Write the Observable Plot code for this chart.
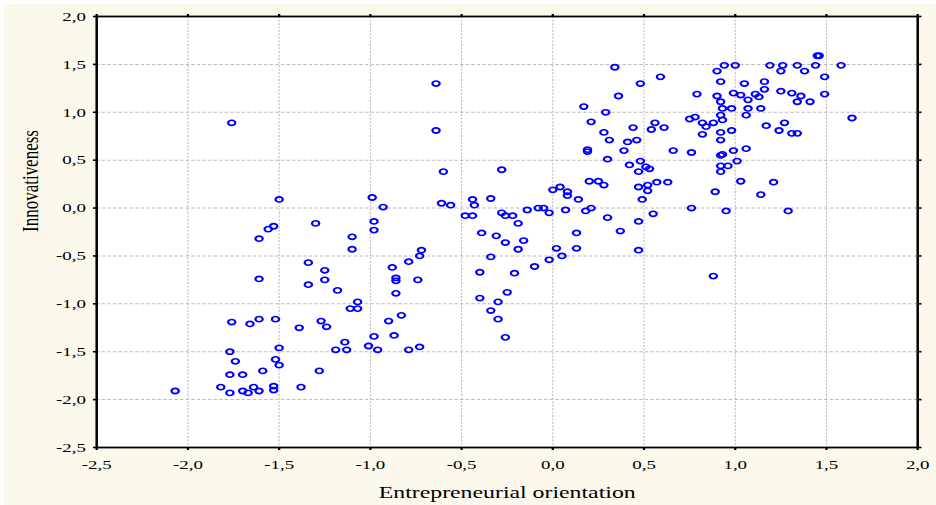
<!DOCTYPE html>
<html>
<head>
<meta charset="utf-8">
<script src="https://cdn.jsdelivr.net/npm/d3@7"></script>
<script src="https://cdn.jsdelivr.net/npm/@observablehq/plot@0.6"></script>
<style>
  html, body { margin: 0; padding: 0; background: #ffffff; }
  #wrap { position: relative; width: 936px; height: 505px; overflow: hidden; }
  #bg { position: absolute; left: 4px; top: 4px; width: 932px; height: 501px; background: #fdf8ec; }
  #chart { position: absolute; left: 0; top: 0; }
</style>
</head>
<body>
<div id="wrap"><div id="bg"></div><div id="chart"></div></div>
<script>
// Entrepreneurial orientation (x) and Innovativeness (y)
const orientation = [
  -1.76, -1.50, -0.99, -0.93, -1.30, -1.53, -1.56, -1.61, -1.10, -0.98,
  -0.98, -1.10, -1.61, -1.34, -1.34, -1.25, -1.25, -1.18, -1.07, -1.11,
  -1.07, -1.76, -1.66, -1.61, -1.52, -1.39, -1.27, -1.24, -1.14, -1.19,
  -1.13, -1.01, -0.98, -0.96, -1.77, -1.74, -1.50, -1.52, -1.50, -1.59,
  -1.28, -1.77, -1.70, -2.07, -1.82, -1.77, -1.70, -1.67, -1.64, -1.61,
  -1.53, -1.53, -1.38,
  -0.64, -0.64, -0.60, -0.28, -0.61, -0.56, -0.44, -0.43, -0.34, -0.48,
  -0.44, -0.28, -0.26, -0.22, -0.19, -0.14, -0.08, -0.05, -0.02, 0.07,
  0.18, 0.21, 0.30, 0.14, 0.49, 0.47, 0.55, 0.37, 0.13, 0.47,
  -0.39, -0.31, -0.26, -0.16, -0.19, 0.02, 0.13, 0.05, -0.02, -0.10,
  -0.34, -0.40, -0.21, -0.25, -0.40, -0.30, -0.34, -0.30, -0.26, -0.72,
  -0.73, -0.79, -0.88, -0.86, -0.86, -0.74, -0.86, -0.83, -0.90, -0.87,
  -0.79, -0.73,
  0.34, 0.48, 0.59, 0.36, 0.17, 0.29, 0.21, 0.44, 0.56, 0.54,
  0.61, 0.28, 0.31, 0.41, 0.46, 0.19, 0.19, 0.39, 0.66, 0.30,
  0.42, 0.48, 0.47, 0.51, 0.53, 0.20, 0.25, 0.28, 0.00, 0.04,
  0.08, 0.08, 0.47, 0.52, 0.52, 0.57, 0.63,
  0.79, 0.75, 0.78, 0.82, 0.84, 0.88, 0.82, 0.76, 0.89, 0.76,
  0.95, 1.29, 1.14, 1.21, 1.03, 0.92, 0.92, 0.96, 1.01, 0.93,
  0.92, 0.99, 1.06, 0.92, 0.92, 0.98, 1.17, 1.27, 1.24, 1.31,
  1.34, 0.92, 0.93, 0.93, 0.98, 1.07, 1.14, 1.06, 0.90, 0.92,
  0.99, 1.03, 1.07, 1.11, 1.13, 1.16, 1.16, 1.05, 1.25, 1.31,
  1.36, 1.34, 1.41, 1.49, 1.49, 0.92, 0.90, 0.94, 1.00, 1.19,
  1.26, 1.25, 1.34, 1.38, 1.44, 1.45, 1.46, 1.58, 1.64, 0.88
];
const innovativeness = [
  0.89, 0.09, 0.11, 0.01, -0.16, -0.19, -0.22, -0.32, -0.30, -0.14,
  -0.23, -0.43, -0.74, -0.57, -0.80, -0.65, -0.75, -0.86, -0.98, -1.05,
  -1.05, -1.19, -1.21, -1.16, -1.16, -1.25, -1.18, -1.24, -1.40, -1.48,
  -1.48, -1.44, -1.34, -1.48, -1.50, -1.60, -1.46, -1.58, -1.64, -1.70,
  -1.70, -1.74, -1.74, -1.91, -1.87, -1.93, -1.91, -1.93, -1.87, -1.91,
  -1.86, -1.90, -1.87,
  1.30, 0.81, 0.38, 0.40, 0.05, 0.03, 0.09, 0.03, 0.10, -0.08,
  -0.08, -0.05, -0.08, -0.08, -0.16, -0.02, 0.00, 0.00, -0.05, -0.02,
  -0.03, 0.00, -0.10, 0.09, 0.09, -0.14, -0.06, -0.24, -0.26, -0.44,
  -0.26, -0.29, -0.36, -0.34, -0.43, -0.42, -0.42, -0.50, -0.54, -0.61,
  -0.51, -0.67, -0.68, -0.88, -0.94, -0.98, -1.07, -1.16, -1.35, -0.44,
  -0.50, -0.56, -0.62, -0.73, -0.76, -0.75, -0.89, -1.12, -1.18, -1.33,
  -1.48, -1.45,
  1.47, 1.30, 1.37, 1.17, 1.06, 1.00, 0.90, 0.84, 0.89, 0.82,
  0.84, 0.79, 0.71, 0.69, 0.71, 0.61, 0.59, 0.60, 0.60, 0.51,
  0.45, 0.49, 0.38, 0.43, 0.41, 0.28, 0.28, 0.24, 0.19, 0.22,
  0.17, 0.13, 0.22, 0.24, 0.18, 0.27, 0.27,
  1.19, 0.93, 0.95, 0.89, 0.85, 0.89, 0.77, 0.58, 0.17, 0.00,
  -0.03, -0.03, 0.14, 0.27, 0.28, 0.44, 0.38, 0.44, 0.49, 0.56,
  0.55, 0.60, 0.62, 0.79, 0.71, 0.81, 0.86, 0.89, 0.81, 0.78,
  0.78, 0.97, 0.92, 1.04, 1.04, 1.04, 1.04, 0.97, 1.17, 1.11,
  1.20, 1.18, 1.13, 1.19, 1.16, 1.24, 1.32, 1.30, 1.22, 1.20,
  1.17, 1.11, 1.11, 1.19, 1.37, 1.32, 1.43, 1.49, 1.49, 1.49,
  1.49, 1.43, 1.49, 1.43, 1.49, 1.59, 1.59, 1.49, 0.94, -0.71
];
const xTicks = [-2.5, -2.0, -1.5, -1.0, -0.5, 0.0, 0.5, 1.0, 1.5, 2.0];
const yTicks = [-2.5, -2.0, -1.5, -1.0, -0.5, 0.0, 0.5, 1.0, 1.5, 2.0];
const xLabel = "Entrepreneurial orientation";
const yLabel = "Innovativeness";

const points = orientation.map((x, i) => ({x, y: innovativeness[i]}));
const fmt = d => d.toFixed(1).replace(".", ",");

// The reference is horizontally stretched; draw in a narrower logical space and stretch it.
const K = 1.4;
const W = 936, H = 505;
const LW = W / K;

const svg = Plot.plot({
  width: LW,
  height: H,
  marginLeft: 96 / K,
  marginRight: 19 / K,
  marginTop: 16,
  marginBottom: 58,
  style: {background: "transparent", fontFamily: "'Liberation Serif', 'Times New Roman', serif", fontSize: "13px", color: "#000"},
  x: {domain: [-2.5, 2.0]},
  y: {domain: [-2.5, 2.0]},
  marks: [
    Plot.frame({fill: "white", stroke: null}),
    Plot.gridX(xTicks, {stroke: "#bdbdbd", strokeOpacity: 1, strokeWidth: 0.8, strokeDasharray: "2,1.5"}),
    Plot.gridY(yTicks, {stroke: "#bdbdbd", strokeOpacity: 1, strokeWidth: 1, strokeDasharray: "2.5,1.5"}),
    Plot.axisX(xTicks, {anchor: "bottom", tickSize: 3, tickPadding: 9, strokeWidth: 1.6, tickFormat: fmt, label: null, fontSize: 13.5}),
    Plot.axisX(xTicks, {anchor: "top", tickSize: 3, strokeWidth: 1.6, fill: "none", label: null}),
    Plot.axisY(yTicks, {anchor: "left", tickSize: 2.2, tickPadding: 5.5, strokeWidth: 1.6, tickFormat: fmt, label: null, fontSize: 13.5}),
    Plot.axisY(yTicks, {anchor: "right", tickSize: 2.2, strokeWidth: 1.6, fill: "none", label: null}),
    Plot.dot(points, {x: "x", y: "y", r: 2.6, stroke: "#0000ff", strokeWidth: 1.6, fill: "none"}),
    Plot.frame({stroke: "#000", strokeWidth: 1.8}),
    Plot.text([xLabel], {frameAnchor: "bottom", dy: 50, lineAnchor: "bottom", fontSize: 17, fill: "#000"}),
    Plot.text([yLabel], {frameAnchor: "left", dx: -(96 / K - 37 / K), rotate: -90, lineAnchor: "bottom", fontSize: 17, fill: "#000"})
  ]
});

svg.setAttribute("width", W);
svg.setAttribute("height", H);
svg.setAttribute("viewBox", `0 0 ${LW} ${H}`);
svg.setAttribute("preserveAspectRatio", "none");
svg.style.width = W + "px";
svg.style.height = H + "px";
svg.style.maxWidth = "none";
svg.style.background = "transparent";
document.getElementById("chart").appendChild(svg);
</script>
</body>
</html>
